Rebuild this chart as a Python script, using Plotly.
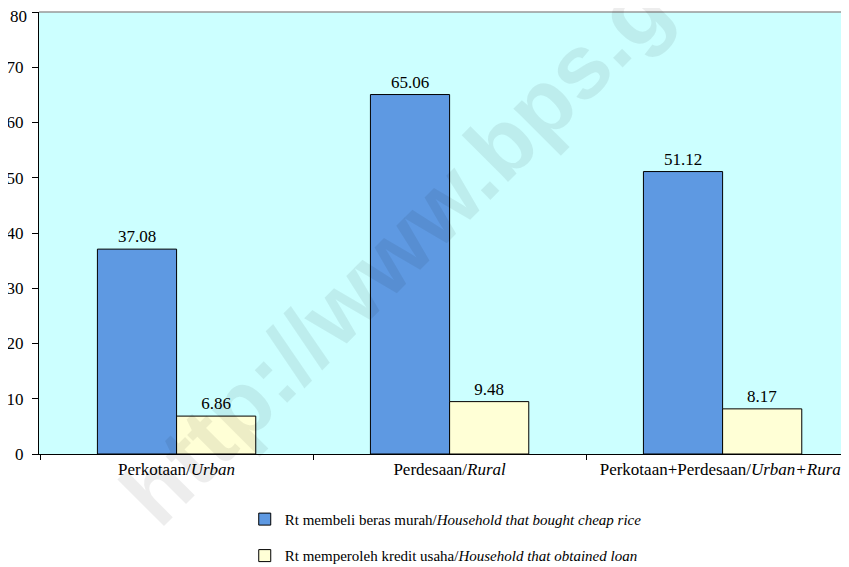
import plotly.graph_objects as go

categories = ["Perkotaan/<i>Urban</i>", "Perdesaan/<i>Rural</i>", "Perkotaan+Perdesaan/<i>Urban+Rural</i>"]
cheap_rice = [37.08, 65.06, 51.12]
loan = [6.86, 9.48, 8.17]
series_names = ["Rt membeli beras murah/<i>Household that bought cheap rice</i>",
                "Rt memperoleh kredit usaha/<i>Household that obtained loan</i>"]
y_ticks = [0, 10, 20, 30, 40, 50, 60, 70, 80]
y_tick_labels = ["0", "10", "20", "30", "40", "50", "60", "70", "80"]

FONT = "Liberation Serif, Times New Roman, serif"

fig = go.Figure()
fig.add_trace(go.Bar(
    x=categories, y=cheap_rice, name=series_names[0], legendgroup="a",
    marker=dict(color="#5E99E2", line=dict(color="black", width=1)),
    text=[f"{v:.2f}" for v in cheap_rice], textposition="outside",
    textfont=dict(family=FONT, size=17, color="black"), cliponaxis=False,
))
fig.add_trace(go.Bar(
    x=categories, y=loan, name=series_names[1], legendgroup="b",
    marker=dict(color="#FFFFD6", line=dict(color="black", width=1)),
    text=[f"{v:.2f}" for v in loan], textposition="outside",
    textfont=dict(family=FONT, size=17, color="black"), cliponaxis=False,
))

# the top tick label is drawn as an annotation nudged down so it is not clipped by the page edge
axis_ticktext = y_tick_labels[:-1] + [""]

fig.update_layout(
    width=849, height=567,
    margin=dict(l=31, r=8, t=4, b=120),
    paper_bgcolor="white", plot_bgcolor="#CCFFFF",
    barmode="group", bargap=0.42, bargroupgap=0,
    font=dict(family=FONT, size=17, color="black"),
    showlegend=True,
    legend=dict(x=0.254, y=-0.108, xanchor="left", yanchor="top",
                font=dict(family=FONT, size=15, color="black"),
                tracegroupgap=14, bgcolor="rgba(0,0,0,0)"),
    xaxis=dict(range=[-0.504, 2.463], showline=True, linecolor="black", linewidth=1,
               ticks="outside", tickson="boundaries", ticklen=5, tickcolor="black",
               showgrid=False, automargin=False, ticklabeloverflow="allow",
               tickfont=dict(family=FONT, size=17, color="black")),
    yaxis=dict(range=[0, 80], tickvals=y_ticks, ticktext=axis_ticktext,
               showline=True, linecolor="black", linewidth=1,
               ticks="outside", ticklen=6, tickcolor="black", showgrid=False, zeroline=False,
               automargin=False, ticklabelstandoff=5, ticklabeloverflow="allow",
               tickfont=dict(family=FONT, size=17, color="black")),
    shapes=[dict(type="line", xref="paper", yref="paper", x0=0, x1=1, y0=1, y1=1,
                 line=dict(color="#999999", width=1.5))],
    annotations=[
        dict(text="<b>http://www.bps.go.id</b>", xref="paper", yref="paper",
             x=0.51, y=0.589, showarrow=False, textangle=-45,
             font=dict(family="Liberation Sans, Arial, sans-serif", size=91,
                       color="rgba(0,0,0,0.07)")),
        dict(text=y_tick_labels[-1], xref="paper", yref="y", x=0, y=y_ticks[-1],
             xanchor="right", yanchor="middle", xshift=-10, yshift=-4, showarrow=False,
             font=dict(family=FONT, size=17, color="black")),
    ],
)

fig.write_html("out.html")
